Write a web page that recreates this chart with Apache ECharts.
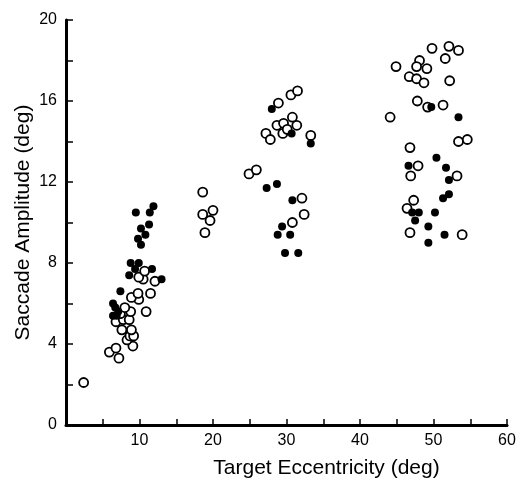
<!DOCTYPE html>
<html>
<head>
<meta charset="utf-8">
<script src="https://cdn.jsdelivr.net/npm/echarts@6/dist/echarts.min.js"></script>
<style>
  html, body { margin: 0; padding: 0; background: #fff; }
  #main { width: 525px; height: 480px; }
</style>
</head>
<body>
<div id="main"></div>
<script>
// [target eccentricity (deg), saccade amplitude (deg)]
var openPts = [
  [2.4, 2.1], [5.9, 3.6], [6.8, 3.8], [7.2, 3.3], [9.1, 3.9], [8.3, 4.2], [8.7, 4.4], [9.2, 4.4],
  [7.6, 4.7], [8.9, 4.7], [6.8, 5.1], [7.8, 5.2], [8.6, 5.2], [7.4, 5.5], [8.8, 5.6], [10.9, 5.6],
  [8.0, 5.8], [9.9, 6.2], [8.9, 6.3], [9.8, 6.5], [11.5, 6.5], [12.1, 7.1], [10.5, 7.2], [9.9, 7.3],
  [10.7, 7.6],
  [18.6, 11.5], [18.6, 10.4], [20.0, 10.6], [19.6, 10.1], [18.9, 9.5], [24.9, 12.4], [25.9, 12.6],
  [27.2, 14.4], [27.8, 14.1], [28.7, 14.8], [29.6, 14.9], [29.5, 14.4], [30.1, 14.6], [31.4, 14.8],
  [30.8, 15.2], [28.9, 15.9], [30.6, 16.3], [31.5, 16.5], [33.3, 14.3], [32.1, 11.2], [32.4, 10.4],
  [30.8, 10.0],
  [49.8, 18.6], [52.1, 18.7], [53.4, 18.5], [51.6, 18.1], [44.9, 17.7], [48.1, 18.0], [47.7, 17.7],
  [49.1, 17.6], [46.7, 17.2], [47.7, 17.1], [48.7, 16.9], [52.2, 17.0], [47.8, 16.0], [49.2, 15.7],
  [51.3, 15.8], [44.1, 15.2], [53.4, 14.0], [54.6, 14.1], [46.8, 13.7], [47.9, 12.8], [46.9, 12.3],
  [53.2, 12.3], [47.3, 11.1], [46.4, 10.7], [46.8, 9.5], [53.9, 9.4]
];
var filledPts = [
  [11.9, 10.8], [9.5, 10.5], [11.4, 10.5], [11.3, 9.9], [10.2, 9.7], [10.8, 9.4], [9.8, 9.2],
  [10.2, 8.9], [8.8, 8.0], [9.9, 8.0], [9.4, 7.7], [11.7, 7.7], [8.6, 7.4], [13.0, 7.2], [7.4, 6.6],
  [6.4, 6.0], [6.7, 5.8], [7.1, 5.6], [6.4, 5.4], [6.9, 5.4],
  [28.0, 15.6], [30.7, 14.4], [33.3, 13.9], [27.3, 11.7], [28.7, 11.9], [30.8, 11.1], [29.4, 9.8],
  [28.8, 9.4], [30.5, 9.4], [29.8, 8.5], [31.6, 8.5],
  [49.7, 15.7], [53.4, 15.2], [50.4, 13.2], [46.6, 12.8], [51.7, 12.7], [52.1, 12.1], [52.1, 11.4],
  [51.3, 11.2], [47.1, 10.5], [48.0, 10.5], [50.2, 10.5], [47.5, 10.1], [49.3, 9.8], [51.5, 9.4],
  [49.3, 9.0]
];

var font = "'Liberation Sans Narrow', 'Liberation Sans', Arial, sans-serif";

var chart = echarts.init(document.getElementById('main'));
var option = {
  animation: false,
  grid: { left: 66, right: 18, top: 20, bottom: 55, outerBoundsMode: 'none' },
  xAxis: {
    type: 'value',
    min: 0, max: 60, interval: 5,
    name: 'Target Eccentricity (deg)',
    nameLocation: 'middle',
    nameGap: 33,
    nameMoveOverlap: false,
    nameTextStyle: {
      color: '#000', fontSize: 21, fontFamily: font,
      verticalAlign: 'top', padding: [0, 0, 0, 80]
    },
    axisLine: { lineStyle: { color: '#000', width: 3 } },
    axisTick: { inside: true, length: 6, lineStyle: { color: '#000', width: 1.5 } },
    axisLabel: {
      color: '#000', fontSize: 16, fontFamily: font, margin: 8,
      formatter: function (v) { return (v % 10 === 0 && v !== 0) ? v : ''; }
    },
    splitLine: { show: false }
  },
  yAxis: {
    type: 'value',
    min: 0, max: 20, interval: 2,
    name: 'Saccade Amplitude (deg)',
    nameLocation: 'middle',
    nameGap: 32,
    nameMoveOverlap: false,
    nameTextStyle: { color: '#000', fontSize: 21, fontFamily: font, verticalAlign: 'bottom' },
    axisLine: { lineStyle: { color: '#000', width: 3 } },
    axisTick: { inside: true, length: 7, lineStyle: { color: '#000', width: 1.5 } },
    axisLabel: {
      color: '#000', fontSize: 16, fontFamily: font, margin: 9,
      formatter: function (v) { return v % 4 === 0 ? v : ''; }
    },
    splitLine: { show: false }
  },
  series: [
    {
      type: 'scatter',
      data: openPts,
      symbol: 'circle',
      symbolSize: 9,
      itemStyle: { color: '#fff', borderColor: '#000', borderWidth: 1.8, opacity: 1 }
    },
    {
      type: 'scatter',
      data: filledPts,
      symbol: 'circle',
      symbolSize: 8,
      itemStyle: { color: '#000', opacity: 1 }
    }
  ]
};
chart.setOption(option);
</script>
</body>
</html>
